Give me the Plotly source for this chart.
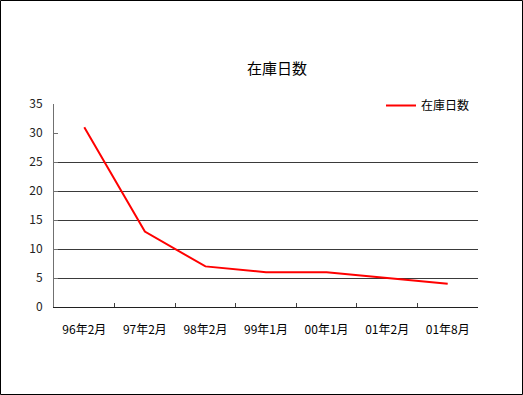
import plotly.graph_objects as go

categories = ["96年2月", "97年2月", "98年2月", "99年1月", "00年1月", "01年2月", "01年8月"]
values = [31, 13, 7, 6, 6, 5, 4]
series_name = "在庫日数"
title_text = "在庫日数"

W, H = 523, 395
ML, MR, MT, MB = 54, 45, 104, 88
PW, PH = W - ML - MR, H - MT - MB

FONT = "Noto Sans CJK JP"

fig = go.Figure()
fig.add_trace(go.Scatter(
    x=categories, y=values, mode="lines", name=series_name,
    line=dict(color="#ff0000", width=2),
))

fig.update_layout(
    width=W, height=H,
    margin=dict(l=ML, r=MR, t=MT, b=MB),
    paper_bgcolor="white", plot_bgcolor="white",
    font=dict(family=FONT, size=12, color="black"),
    title=dict(text=title_text, x=277 / W, xanchor="center", y=1 - 69 / H, yanchor="middle",
               font=dict(family=FONT, size=15, color="black")),
    showlegend=True,
    legend=dict(x=(381 - ML) / PW, y=(307 - 91) / PH, xanchor="left", yanchor="top",
                bgcolor="rgba(0,0,0,0)", font=dict(family=FONT, size=12, color="black"),
                itemwidth=30),
    xaxis=dict(type="category", range=[-0.5, len(categories) - 0.5], tickson="boundaries",
               ticks="inside", ticklen=4, tickcolor="#404040", showline=True,
               linecolor="#202020", linewidth=1, showgrid=False, zeroline=False,
               ticklabelstandoff=12, tickfont=dict(family=FONT, size=12, color="black")),
    yaxis=dict(range=[0, 35], tickvals=[0, 5, 10, 15, 20, 25, 30, 35], ticks="inside",
               ticklen=4, tickcolor="#707070", showline=True, linecolor="#707070",
               linewidth=1, showgrid=False, zeroline=False, ticklabelstandoff=8,
               tickfont=dict(family=FONT, size=12, color="#222222")),
    yaxis2=dict(range=[0, 35], overlaying="y", tickvals=[5, 10, 15, 20, 25],
                showticklabels=False, showgrid=True, gridcolor="#3a3a3a", gridwidth=1,
                zeroline=False, showline=False, ticks=""),
)

# invisible trace to activate yaxis2 grid
fig.add_trace(go.Scatter(x=categories, y=values, yaxis="y2", mode="lines",
                         line=dict(width=0), showlegend=False, hoverinfo="skip",
                         opacity=0))

# outer chart border
fig.add_shape(type="rect", xref="paper", yref="paper",
              x0=(0.5 - ML) / PW, x1=(W - 0.5 - ML) / PW,
              y0=(H - MB - (H - 0.5)) / PH, y1=(H - MB - 0.5) / PH,
              line=dict(color="black", width=1), fillcolor="rgba(0,0,0,0)", layer="above")

fig.write_html("out.html")
